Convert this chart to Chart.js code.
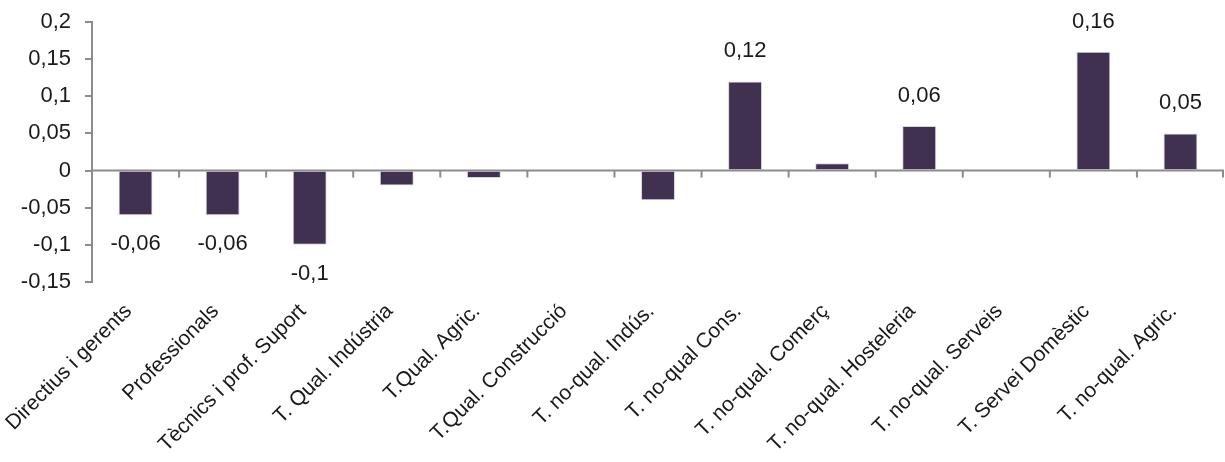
<!DOCTYPE html>
<html>
<head>
<meta charset="utf-8">
<script src="https://cdn.jsdelivr.net/npm/chart.js@4.4.0/dist/chart.umd.min.js"></script>
<style>
  html, body { margin: 0; padding: 0; background: #fff; }
  #wrap { width: 1225px; height: 462px; }
</style>
</head>
<body>
<div id="wrap"><canvas id="chart"></canvas></div>
<script>
// categories i valors
const categories = ['Directius i gerents', 'Professionals', 'Tècnics i prof. Suport', 'T. Qual. Indústria',
  'T.Qual. Agric.', 'T.Qual. Construcció', 'T. no-qual. Indús.', 'T. no-qual Cons.', 'T. no-qual. Comerç',
  'T. no-qual. Hosteleria', 'T. no-qual. Serveis', 'T. Servei Domèstic', 'T. no-qual. Agric.'];
const values = [-0.06, -0.06, -0.1, -0.02, -0.01, 0, -0.04, 0.12, 0.01, 0.06, 0, 0.16, 0.05];
const showLabel = [true, true, true, false, false, false, false, true, false, true, false, true, true];
const yTicks = [-0.15, -0.1, -0.05, 0, 0.05, 0.1, 0.15, 0.2];

const fontFamily = '"Liberation Sans", Arial, sans-serif';
const axisColor = '#8c8c8c';

function fmt(v) {
  return String(Math.round(v * 100) / 100).replace('.', ',');
}

// línia del zero amb les marques entre categories
const zeroLine = {
  id: 'zeroLine',
  afterDatasetsDraw(chart) {
    const ctx = chart.ctx;
    const x = chart.scales.x, y = chart.scales.y;
    const y0 = y.getPixelForValue(0);
    ctx.save();
    ctx.strokeStyle = axisColor;
    ctx.lineWidth = 2;
    ctx.beginPath();
    ctx.moveTo(chart.chartArea.left, y0);
    ctx.lineTo(chart.chartArea.right, y0);
    ctx.stroke();
    for (let i = 1; i <= categories.length; i++) {
      const px = (x.getPixelForValue(i - 1) + x.getPixelForValue(i)) / 2;
      const xx = i === categories.length ? chart.chartArea.right - 1 : px;
      ctx.beginPath();
      ctx.moveTo(xx, y0);
      ctx.lineTo(xx, y0 + 7);
      ctx.stroke();
    }
    ctx.restore();
  }
};

// etiquetes de valor
const valueLabels = {
  id: 'valueLabels',
  afterDatasetsDraw(chart) {
    const ctx = chart.ctx;
    const meta = chart.getDatasetMeta(0);
    ctx.save();
    ctx.font = '22px ' + fontFamily;
    ctx.fillStyle = '#1a1a1a';
    ctx.textAlign = 'center';
    ctx.textBaseline = 'middle';
    meta.data.forEach((bar, i) => {
      if (!showLabel[i]) return;
      const v = values[i];
      const yy = v >= 0 ? bar.y - 30 : bar.y + 29;
      ctx.fillText(fmt(v), bar.x, yy);
    });
    ctx.restore();
  }
};

const ctx = document.getElementById('chart').getContext('2d');
new Chart(ctx, {
  type: 'bar',
  data: {
    labels: categories,
    datasets: [{
      data: values,
      backgroundColor: '#403150',
      borderColor: '#d9d4de',
      borderWidth: 1,
      borderSkipped: 'start',
      categoryPercentage: 1,
      barPercentage: 0.39
    }]
  },
  options: {
    responsive: true,
    maintainAspectRatio: false,
    animation: false,
    layout: { padding: { top: 22, right: 1, left: 0, bottom: 0 } },
    plugins: { legend: { display: false }, tooltip: { enabled: false } },
    scales: {
      x: {
        grid: { display: false },
        border: { display: false },
        afterFit(scale) {
          scale.height = 180;
        },
        ticks: {
          autoSkip: false,
          maxRotation: 45,
          minRotation: 45,
          padding: 9,
          labelOffset: -7,
          color: '#1a1a1a',
          font: { size: 21, family: fontFamily }
        }
      },
      y: {
        min: -0.15,
        max: 0.2,
        afterBuildTicks(scale) {
          scale.ticks = yTicks.map(v => ({ value: v }));
        },
        afterFit(scale) {
          scale.width = 92;
          scale.paddingTop = 0;
          scale.paddingBottom = 0;
        },
        grid: { drawOnChartArea: false, tickLength: 7, color: axisColor, lineWidth: 2 },
        border: { color: axisColor, width: 2 },
        ticks: {
          padding: 14,
          color: '#1a1a1a',
          font: { size: 22, family: fontFamily },
          callback: v => fmt(v)
        }
      }
    }
  },
  plugins: [zeroLine, valueLabels]
});
</script>
</body>
</html>
